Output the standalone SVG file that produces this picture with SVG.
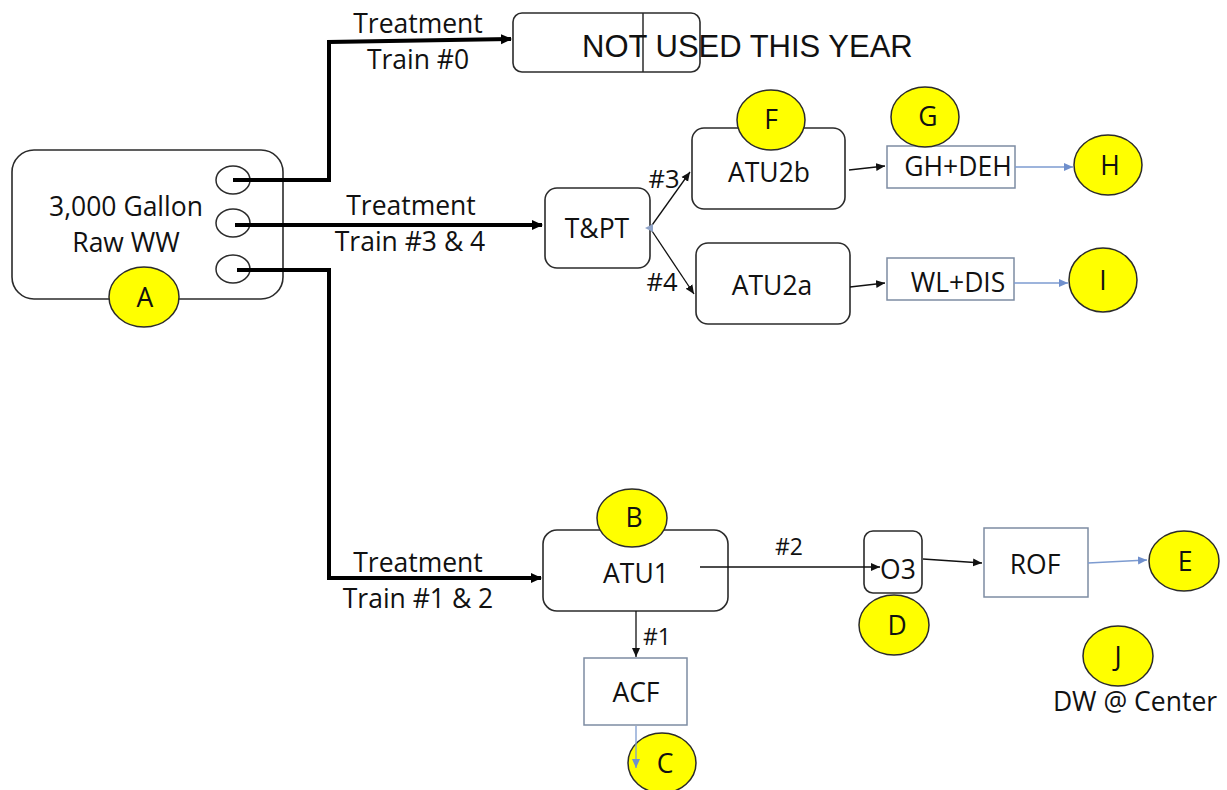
<svg xmlns="http://www.w3.org/2000/svg" width="1227" height="790" viewBox="0 0 1227 790">
<style>
.rbox{fill:#fff;stroke:#2b2b2b;stroke-width:1.6}
.sbox{fill:#fff;stroke:#7d8ca3;stroke-width:1.5}
.port{fill:#fff;stroke:#2b2b2b;stroke-width:1.5}
.mark{fill:#ffff00;stroke:#2b2b2b;stroke-width:1.5}
.t{font-family:"Open Sans","Liberation Sans",sans-serif;font-size:26.5px;fill:#111;text-anchor:middle}
.ts{font-family:"Open Sans","Liberation Sans",sans-serif;font-size:23px;fill:#111;text-anchor:middle}
.tm{font-family:"Open Sans","Liberation Sans",sans-serif;font-size:25.5px;fill:#111;text-anchor:middle}
.ta{font-family:"Liberation Sans",Arial,sans-serif;font-size:31px;fill:#111}
.thick{fill:none;stroke:#000;stroke-width:4}
.thin{fill:none;stroke:#111;stroke-width:1.3}
.blue{fill:none;stroke:#7d9bd0;stroke-width:1.3}
</style>
<defs>
<marker id="ah" markerWidth="12" markerHeight="12" refX="10" refY="6" orient="auto" markerUnits="userSpaceOnUse"><path d="M0,1 L11,6 L0,11 Z" fill="#000"/></marker>
<marker id="ahs" markerWidth="10" markerHeight="10" refX="9" refY="5" orient="auto" markerUnits="userSpaceOnUse"><path d="M0,1 L9,5 L0,9 Z" fill="#111"/></marker>
<marker id="ahb" markerWidth="10" markerHeight="10" refX="9" refY="5" orient="auto" markerUnits="userSpaceOnUse"><path d="M0,1 L9,5 L0,9 Z" fill="#6f8fcc"/></marker>
</defs>
<rect width="1227" height="790" fill="#fff"/>

<g id="tank">
<rect class="rbox" x="12" y="150" width="271" height="149" rx="22"/>
<ellipse class="port" cx="233" cy="180" rx="17" ry="14"/>
<ellipse class="port" cx="233" cy="223" rx="17" ry="14"/>
<ellipse class="port" cx="233" cy="269" rx="17" ry="14"/>
<text class="t" x="126" y="216">3,000 Gallon</text>
<text class="t" x="126" y="252">Raw WW</text>
</g>
<g id="notused">
<rect class="rbox" x="513" y="13" width="187" height="59" rx="9"/>
<line x1="643" y1="13" x2="643" y2="72" stroke="#2b2b2b" stroke-width="1.5"/>
<text class="ta" x="582" y="57">NOT USED THIS YEAR</text>
</g>
<g id="tpt"><rect class="rbox" x="545" y="188" width="105" height="80" rx="12"/><text class="t" x="597" y="238">T&amp;PT</text></g>
<g id="atu2b"><rect class="rbox" x="692" y="128" width="153" height="81" rx="12"/><text class="t" x="769" y="182">ATU2b</text></g>
<g id="atu2a"><rect class="rbox" x="696" y="243" width="154" height="81" rx="12"/><text class="t" x="772" y="295">ATU2a</text></g>
<g id="ghdeh"><rect class="sbox" x="887" y="146" width="128" height="42"/><text class="t" x="958" y="176">GH+DEH</text></g>
<g id="wldis"><rect class="sbox" x="887" y="258" width="127" height="42"/><text class="t" x="958" y="292">WL+DIS</text></g>
<g id="atu1"><rect class="rbox" x="543" y="530" width="185" height="81" rx="14"/><text class="t" x="636" y="583">ATU1</text></g>
<g id="o3"><rect class="rbox" x="864" y="531" width="58" height="62" rx="9"/><text class="t" x="898" y="579">O3</text></g>
<g id="rof"><rect class="sbox" x="984" y="528" width="104" height="69"/><text class="t" x="1035" y="574">ROF</text></g>
<g id="acf"><rect class="sbox" x="584" y="658" width="103" height="67"/><text class="t" x="636" y="702">ACF</text></g>

<g id="markA"><ellipse class="mark" cx="144" cy="297" rx="35" ry="30"/><text class="t" x="145" y="307">A</text></g>
<g id="markB"><ellipse class="mark" cx="632" cy="518" rx="35" ry="29"/><text class="t" x="634" y="527">B</text></g>
<g id="markC"><ellipse class="mark" cx="662" cy="763" rx="34" ry="30"/><text class="t" x="665" y="773">C</text></g>
<g id="markD"><ellipse class="mark" cx="894" cy="625" rx="35" ry="30"/><text class="t" x="897" y="635">D</text></g>
<g id="markE"><ellipse class="mark" cx="1184" cy="561" rx="35" ry="30"/><text class="t" x="1185" y="571">E</text></g>
<g id="markF"><ellipse class="mark" cx="771" cy="120" rx="34" ry="30"/><text class="t" x="771" y="129">F</text></g>
<g id="markG"><ellipse class="mark" cx="925" cy="117" rx="34" ry="30"/><text class="t" x="928" y="126">G</text></g>
<g id="markH"><ellipse class="mark" cx="1108" cy="165" rx="34" ry="30"/><text class="t" x="1110" y="175">H</text></g>
<g id="markI"><ellipse class="mark" cx="1103" cy="280" rx="34" ry="32"/><text class="t" x="1103" y="290">I</text></g>
<g id="markJ"><ellipse class="mark" cx="1118" cy="656" rx="35" ry="30"/><text class="t" x="1118" y="666">J</text></g>
<text class="t" x="1135" y="711">DW @ Center</text>

<g id="connectors">
<path class="thick" d="M233,180 H329 V42 L511,39" marker-end="url(#ah)"/>
<path class="thick" d="M235,225 H542" marker-end="url(#ah)"/>
<path class="thick" d="M237,270 H329 V578 H541" marker-end="url(#ah)"/>
<path class="thin" d="M650,228 L690,172" marker-end="url(#ahs)"/>
<path class="thin" d="M650,228 L694,294" marker-end="url(#ahs)"/>
<path d="M645,228 L653,224 L653,232 Z" fill="#8fa3c8"/>
<path class="thin" d="M849,170 L885,166" marker-end="url(#ahs)"/>
<path class="blue" d="M1015,167 L1073,167" marker-end="url(#ahb)"/>
<path class="thin" d="M850,287 L885,283" marker-end="url(#ahs)"/>
<path class="blue" d="M1014,283 L1068,283" marker-end="url(#ahb)"/>
<path class="thin" d="M700,567 L880,567" marker-end="url(#ahs)"/>
<path class="thin" d="M923,559 L982,563" marker-end="url(#ahs)"/>
<path class="blue" d="M1088,563 L1147,560" marker-end="url(#ahb)"/>
<path class="thin" d="M636,611 L636,657" marker-end="url(#ahs)"/>
<path class="blue" d="M636,726 L636,768" marker-end="url(#ahb)"/>
<text class="t" x="418" y="33">Treatment</text>
<text class="t" x="418" y="69">Train #0</text>
<text class="t" x="411" y="215">Treatment</text>
<text class="t" x="410" y="251">Train #3 &amp; 4</text>
<text class="t" x="418" y="572">Treatment</text>
<text class="t" x="418" y="608">Train #1 &amp; 2</text>
<text class="tm" x="664" y="188">#3</text>
<text class="tm" x="662" y="291">#4</text>
<text class="ts" x="789" y="555">#2</text>
<text class="ts" x="657" y="645">#1</text>
</g>
</svg>
